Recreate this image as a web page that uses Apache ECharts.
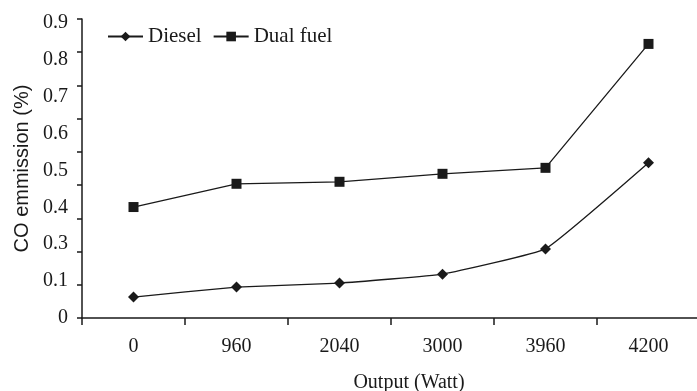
<!DOCTYPE html>
<html>
<head>
<meta charset="utf-8">
<script src="https://cdn.jsdelivr.net/npm/echarts@6/dist/echarts.min.js"></script>
<style>html,body{margin:0;padding:0;background:#fff}#c{width:697px;height:391px}</style>
</head>
<body>
<div id="c"></div>
<script>
var categories = ['0', '960', '2040', '3000', '3960', '4200'];
var diesel = [0.063, 0.093, 0.105, 0.132, 0.208, 0.467];
var dualFuel = [0.334, 0.404, 0.410, 0.434, 0.452, 0.825];
var yTickLabels = ['0', '0.1', '0.3', '0.4', '0.5', '0.6', '0.7', '0.8', '0.9'];

var ink = '#1a1a1a';
var serif = 'Liberation Serif';
var chart = echarts.init(document.getElementById('c'));
chart.setOption({
  animation: false,
  backgroundColor: '#fff',
  grid: { left: 82, top: 19, right: -3, bottom: 73, containLabel: false, outerBoundsMode: 'none' },
  legend: {
    left: 102, top: 21,
    itemWidth: 35, itemHeight: 12, itemGap: 11,
    textStyle: { fontFamily: serif, fontSize: 21, color: ink },
    data: ['Diesel', 'Dual fuel']
  },
  xAxis: {
    type: 'category',
    data: categories,
    boundaryGap: true,
    name: 'Output (Watt)',
    nameLocation: 'middle',
    nameGap: 55,
    nameTextStyle: { fontFamily: serif, fontSize: 20, color: ink, padding: [0, 0, 0, 36] },
    axisLine: { lineStyle: { color: ink, width: 1.5 } },
    axisTick: { show: true, length: 7, lineStyle: { color: ink, width: 1.5 } },
    axisLabel: { fontFamily: serif, fontSize: 20, color: ink, margin: 19 },
    splitLine: { show: false }
  },
  yAxis: [{
    type: 'value',
    min: 0, max: 0.9, interval: 0.1,
    name: 'CO emmission (%)',
    nameLocation: 'middle',
    nameGap: 50,
    nameTextStyle: { fontFamily: 'Liberation Sans', fontSize: 20, color: ink },
    axisLine: { show: true, lineStyle: { color: ink, width: 1.5 } },
    axisTick: { show: true, length: 5, lineStyle: { color: ink, width: 1.5 } },
    axisLabel: { show: false },
    splitLine: { show: false }
  }, {
    type: 'value',
    position: 'left',
    min: 0, max: 0.9, interval: 0.1111,
    axisLine: { show: false },
    axisTick: { show: false },
    splitLine: { show: false },
    axisLabel: {
      fontFamily: serif, fontSize: 20, color: ink, margin: 14,
      formatter: function (v, i) { return yTickLabels[i] !== undefined ? yTickLabels[i] : ''; }
    }
  }],
  series: [{
    name: 'Diesel',
    type: 'line',
    data: diesel,
    smooth: 0.1,
    symbol: 'diamond',
    symbolSize: 11,
    lineStyle: { color: ink, width: 1.3 },
    itemStyle: { color: ink }
  }, {
    name: 'Dual fuel',
    type: 'line',
    data: dualFuel,
    symbol: 'rect',
    symbolSize: 10,
    lineStyle: { color: ink, width: 1.3 },
    itemStyle: { color: ink }
  }]
});
</script>
</body>
</html>
